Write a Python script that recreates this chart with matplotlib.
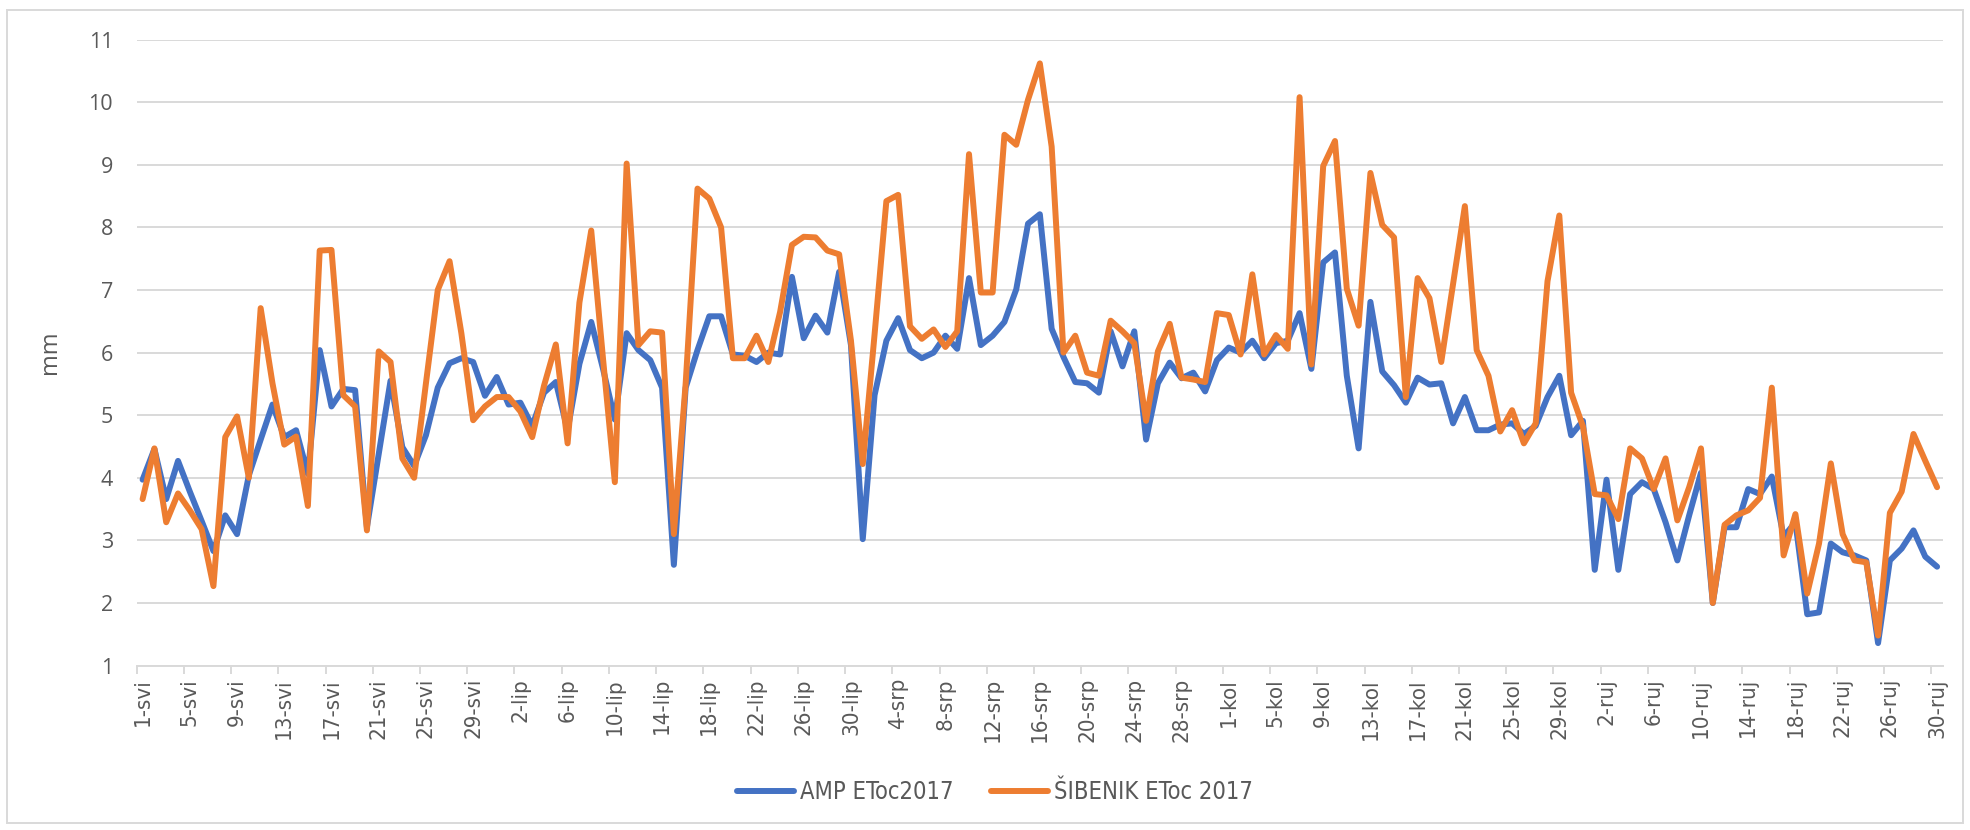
import numpy as np
import matplotlib
matplotlib.use("Agg")
import matplotlib.pyplot as plt
from matplotlib import font_manager as fm
from matplotlib.patches import Rectangle

# ---------------- data ----------------
tick_labels = ['1-svi', '5-svi', '9-svi', '13-svi', '17-svi', '21-svi', '25-svi', '29-svi',
               '2-lip', '6-lip', '10-lip', '14-lip', '18-lip', '22-lip', '26-lip', '30-lip',
               '4-srp', '8-srp', '12-srp', '16-srp', '20-srp', '24-srp', '28-srp',
               '1-kol', '5-kol', '9-kol', '13-kol', '17-kol', '21-kol', '25-kol', '29-kol',
               '2-ruj', '6-ruj', '10-ruj', '14-ruj', '18-ruj', '22-ruj', '26-ruj', '30-ruj']

amp = [3.97, 4.46, 3.66, 4.27, 3.78, 3.31, 2.83, 3.40, 3.10, 4.04,
       4.61, 5.17, 4.65, 4.76, 4.06, 6.04, 5.14, 5.42, 5.40, 3.21,
       4.38, 5.55, 4.49, 4.19, 4.68, 5.44, 5.83, 5.91, 5.85, 5.31,
       5.61, 5.17, 5.20, 4.83, 5.36, 5.53, 4.76, 5.82, 6.49, 5.74,
       4.93, 6.31, 6.04, 5.88, 5.44, 2.61, 5.44, 6.04, 6.58, 6.58,
       5.97, 5.95, 5.85, 6.00, 5.97, 7.21, 6.23, 6.59, 6.32, 7.29,
       6.12, 3.02, 5.32, 6.19, 6.55, 6.04, 5.91, 6.00, 6.27, 6.06,
       7.19, 6.12, 6.27, 6.49, 7.01, 8.06, 8.21, 6.38, 5.93, 5.53,
       5.51, 5.36, 6.34, 5.78, 6.34, 4.61, 5.51, 5.84, 5.59, 5.68,
       5.38, 5.88, 6.08, 6.00, 6.19, 5.91, 6.15, 6.19, 6.63, 5.74,
       7.44, 7.60, 5.63, 4.47, 6.81, 5.70, 5.48, 5.20, 5.60, 5.49,
       5.51, 4.87, 5.29, 4.76, 4.76, 4.85, 4.87, 4.70, 4.83, 5.29,
       5.63, 4.68, 4.91, 2.53, 3.97, 2.53, 3.74, 3.93, 3.82, 3.29,
       2.68, 3.40, 4.08, 2.00, 3.21, 3.21, 3.82, 3.74, 4.02, 3.06,
       3.29, 1.82, 1.85, 2.95, 2.81, 2.76, 2.68, 1.36, 2.68, 2.87,
       3.16, 2.74, 2.58]

sibenik = [3.66, 4.47, 3.29, 3.75, 3.48, 3.18, 2.27, 4.65, 4.98, 4.00,
           6.71, 5.51, 4.53, 4.66, 3.55, 7.63, 7.64, 5.32, 5.14, 3.16,
           6.02, 5.85, 4.31, 4.00, 5.51, 7.00, 7.46, 6.31, 4.92, 5.14,
           5.29, 5.29, 5.06, 4.65, 5.47, 6.13, 4.55, 6.80, 7.95, 5.90,
           3.93, 9.02, 6.12, 6.34, 6.32, 3.10, 5.51, 8.62, 8.46, 8.00,
           5.91, 5.91, 6.27, 5.85, 6.65, 7.72, 7.85, 7.84, 7.63, 7.57,
           6.19, 4.22, 6.29, 8.42, 8.52, 6.42, 6.22, 6.37, 6.09, 6.34,
           9.17, 6.96, 6.96, 9.48, 9.32, 10.04, 10.62, 9.29, 6.00, 6.27,
           5.68, 5.63, 6.51, 6.34, 6.15, 4.91, 6.02, 6.46, 5.60, 5.57,
           5.53, 6.63, 6.60, 5.97, 7.25, 5.97, 6.28, 6.06, 10.08, 5.81,
           8.98, 9.38, 7.02, 6.43, 8.87, 8.04, 7.84, 5.29, 7.19, 6.87,
           5.85, 7.10, 8.34, 6.04, 5.63, 4.74, 5.08, 4.55, 4.87, 7.14,
           8.19, 5.36, 4.82, 3.74, 3.72, 3.34, 4.47, 4.31, 3.82, 4.31,
           3.32, 3.85, 4.47, 2.00, 3.25, 3.40, 3.48, 3.68, 5.44, 2.76,
           3.42, 2.15, 2.95, 4.23, 3.10, 2.68, 2.65, 1.48, 3.44, 3.78,
           4.70, 4.27, 3.85]

series_names = ['AMP EToc2017', 'ŠIBENIK EToc 2017']
y_label = 'mm'

# ---------------- fonts ----------------
ttf = fm.fontManager.ttflist
available = {f.name for f in ttf}
has_condensed = any(f.name == 'DejaVu Sans' and str(f.stretch) in ('condensed', '300', 'semi-condensed')
                    for f in ttf)
if 'Liberation Sans Narrow' in available:
    xfont = dict(family='Liberation Sans Narrow', size=18)
    lfont = dict(family='Liberation Sans Narrow', size=18)
elif has_condensed:
    xfont = dict(family='DejaVu Sans', stretch='condensed', size=16)
    lfont = dict(family='DejaVu Sans', stretch='condensed', size=17)
else:
    xfont = dict(family='DejaVu Sans', size=14)
    lfont = dict(family='DejaVu Sans', size=15.5)
wide = 'Open Sans' if 'Open Sans' in available else 'DejaVu Sans'
TXT = '#595959'
GRID = '#d9d9d9'

W, H = 1970, 830
fig = plt.figure(figsize=(W / 100, H / 100), dpi=100)
left, right, top, bottom = 136.7, 1943, 39.6, 665.6
ax = fig.add_axes([left / W, 1 - bottom / H, (right - left) / W, (bottom - top) / H])

x = np.arange(len(amp))
ax.plot(x, amp, color='#4472C4', lw=4.3, solid_joinstyle='round', solid_capstyle='round',
        label=series_names[0], zorder=3)
ax.plot(x, sibenik, color='#ED7D31', lw=4.3, solid_joinstyle='round', solid_capstyle='round',
        label=series_names[1], zorder=4)

ax.set_xlim(-0.5, len(amp) - 0.5)
ax.set_ylim(1, 11)
ax.set_yticks(np.arange(1, 12))
ax.yaxis.grid(True, color=GRID, lw=1.4, zorder=0)
ax.set_axisbelow(True)
for s in ['left', 'right', 'top']:
    ax.spines[s].set_visible(False)
ax.spines['bottom'].set_color(GRID)
ax.spines['bottom'].set_linewidth(1.4)

ax.tick_params(axis='y', length=0, pad=17, labelsize=15.5, labelcolor=TXT)
for lab in ax.get_yticklabels():
    lab.set_family(wide)

label_pos = np.arange(0, len(amp), 4)
ax.set_xticks(label_pos)
ax.set_xticklabels(tick_labels, rotation=90, color=TXT, fontproperties=fm.FontProperties(**xfont))
ax.tick_params(axis='x', which='major', length=0, pad=9)
ax.set_xticks(label_pos - 0.5, minor=True)
ax.tick_params(axis='x', which='minor', length=6, width=1.4, color=GRID)

ax.set_ylabel(y_label, fontsize=17, color=TXT, family=wide, labelpad=12)
ax.yaxis.set_label_coords((62 - left) / (right - left), 0.5)

fig.legend(loc='center', bbox_to_anchor=(0.505, 0.046), ncol=2, frameon=False,
           prop=fm.FontProperties(**lfont), labelcolor=TXT,
           handlelength=2.4, handletextpad=0.25, columnspacing=1.6)

fig.patches.append(Rectangle((7 / W, 1 - 823 / H), (1963 - 7) / W, (823 - 10) / H,
                             transform=fig.transFigure, fill=False,
                             edgecolor=GRID, lw=1.4))

fig.savefig('out.png', dpi=100, facecolor='white')
